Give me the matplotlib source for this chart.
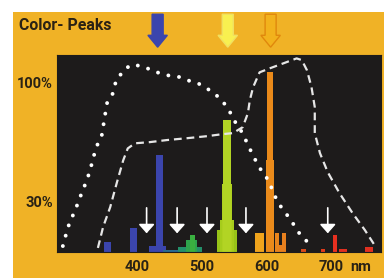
import matplotlib.pyplot as plt
from matplotlib import font_manager
from matplotlib.patches import Rectangle, FancyArrow

# spectral lines of the lamp: wavelength (nm) and relative height (%)
line_nm = [355, 395, 432, 435, 455,
           482, 484, 486,
           539, 539, 539, 539,
           589, 605, 605, 620, 616, 626,
           657, 687, 705, 718, 757]
line_pct = [6, 14, 3.5, 57, 1.2,
            3, 7, 10,
            13, 19, 40, 77.6,
            11, 54, 106, 4, 11, 11,
            2, 2, 10, 2, 3]
line_w = [10, 11, 26, 10, 30,
          38, 18, 8,
          30, 22, 15, 12,
          14, 12, 9, 16, 6, 6,
          8, 6, 6, 12, 12]
line_col = ['#3b45ad', '#3b45ad', '#3b45ad', '#3b45ad', '#2a6a90',
            '#23906a', '#2ea44c', '#3ab040',
            '#98c418', '#a6cc1c', '#aed020', '#b2d424',
            '#f0a41c', '#e98c1c', '#ea8a1a', '#e8801e', '#e8841c', '#e8801e',
            '#d84a1a', '#e03a1a', '#e83020', '#e03020', '#e03020']

# dotted curve (eye / sensitivity)
dot_nm = [286, 294, 308, 315, 323, 328, 334, 340, 346, 351, 354, 362, 369,
          374, 382, 394, 412, 431, 448, 466, 479, 494, 512, 528, 539, 546,
          554, 563, 571, 585, 594, 605, 609, 623, 635, 654, 669]
dot_pct = [3.5, 14.7, 27.6, 34.7, 42.3, 48.2, 57, 64, 68.8, 80.6, 87.6, 92.3,
           102.3, 104, 108, 110.5, 108.8, 105.8, 104, 103, 101, 99.4, 95.3,
           90.6, 85.3, 80.6, 74.7, 70, 63, 52.3, 46.5, 41.2, 35.3, 25.9, 20,
           8.8, 4.1]

# dashed curve (filter)
dash_nm = [340, 348, 359, 369, 379, 386, 397, 420, 446, 477, 508, 532, 548,
           563, 571, 574, 579, 589, 605, 625, 646, 654, 662, 669, 674, 674,
           682, 694, 712, 732, 751, 766, 769]
dash_pct = [2.4, 14.7, 26.5, 40.6, 54, 61, 64, 64.7, 65.9, 67, 68.2, 69.4, 70,
            73.5, 81.7, 89.4, 97, 105.8, 108.2, 111, 114, 113, 107, 97, 85.3,
            70, 58.2, 47, 34.7, 23, 13, 4.1, 2.4]

gap_nm = [415, 462, 508, 568, 694]          # white arrows
peak_nm = [432, 540, 606]                   # colour peak arrows
peak_fill = ['#3b45ad', '#f8f050', '#f2b21c']
peak_edge = ['#3b45ad', '#f0e060', '#e0880c']

xticks = [400, 500, 600, 700]
yticks = [30, 100]
ytick_labels = ['30%', '100%']

names = {f.name for f in font_manager.fontManager.ttflist}
narrow = 'Liberation Sans Narrow' in names
font = ['Liberation Sans Narrow', 'DejaVu Sans'] if narrow else ['Roboto', 'DejaVu Sans']
k = 1.0 if narrow else 0.88
bg = '#f0b226'
ink = '#2a2214'

fig = plt.figure(figsize=(3.84, 2.78), dpi=100)
fig.patches.append(Rectangle((13 / 384, 0), 1, 266 / 278, transform=fig.transFigure,
                             facecolor=bg, edgecolor='none', zorder=-1))

ax = fig.add_axes([57 / 384, 26 / 278, 324 / 384, 197 / 278])
ax.set_zorder(1)
ax.set_facecolor('#1d1b1b')
for s in ax.spines.values():
    s.set_color('#1d1b1b')

ax.bar(line_nm, line_pct, width=line_w, color=line_col, zorder=2)

ax.plot(dot_nm, dot_pct, color='white', lw=2.8, linestyle=(0, (0.01, 2.75)),
        dash_capstyle='round', solid_capstyle='round', zorder=4)
ax.plot(dash_nm, dash_pct, color='#e6e6e6', lw=1.6, linestyle=(0, (3.5, 2.2)), zorder=4)

for x in gap_nm:
    ax.annotate('', xy=(x, 11), xytext=(x, 26),
                arrowprops=dict(arrowstyle='-|>,head_length=0.45,head_width=0.4',
                                color='white', lw=1.2, mutation_scale=12,
                                shrinkA=0, shrinkB=0), zorder=5)

for x, fc, ec in zip(peak_nm, peak_fill, peak_edge):
    ax.add_patch(FancyArrow(x, 140, 0, -19.4, width=17, head_width=30,
                            head_length=7, length_includes_head=True,
                            facecolor=fc, edgecolor=ec, lw=1, clip_on=False, zorder=6))

ax.set_xlim(277, 776)
ax.set_ylim(0, 116)
ax.set_xticks(xticks)
ax.set_xticklabels([str(t) for t in xticks], family=font, weight='bold',
                   fontsize=12 * k, color=ink)
ax.set_yticks(yticks)
ax.set_yticklabels(ytick_labels, family=font, weight='bold', fontsize=12 * k, color=ink)
ax.tick_params(axis='x', length=0, pad=6)
ax.tick_params(axis='y', length=0, pad=3)

ax.annotate('nm', xy=(700, 0), xycoords=('data', 'axes fraction'),
            xytext=(13.5, -6), textcoords='offset points', ha='left', va='top',
            family=font, weight='bold', fontsize=12 * k, color=ink)

fig.text(19 / 384, 1 - 26 / 278, 'Color- Peaks', family=font, weight='bold',
         fontsize=13 * k, color=ink, va='center', ha='left')

fig.savefig('out.png', dpi=100)
